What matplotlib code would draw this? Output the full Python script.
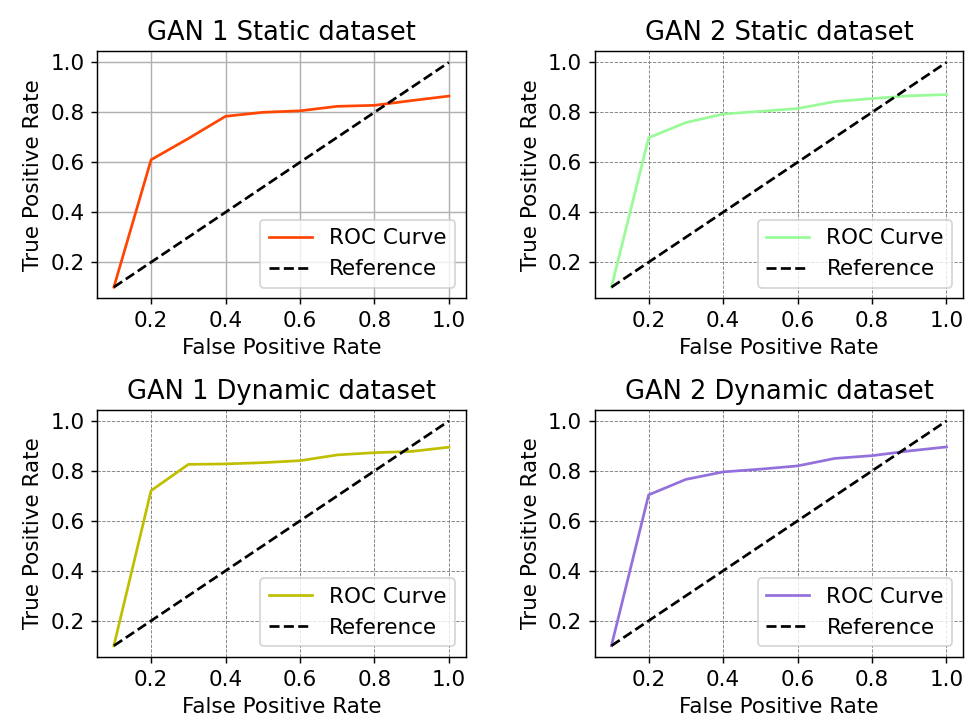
import numpy as np
import matplotlib
matplotlib.use('Agg')
import matplotlib.pyplot as plt


# false positive rate thresholds shared by all four curves
fpr = [0.1, 0.2, 0.3, 0.4, 0.5, 0.6, 0.7, 0.8, 0.9, 1.0]

# true positive rate
tpr_gan1_static = [0.1, 0.61, 0.695, 0.784, 0.80, 0.806, 0.824, 0.828, 0.847, 0.865]
tpr_gan2_static = [0.1, 0.698, 0.759, 0.793, 0.804, 0.815, 0.843, 0.855, 0.866, 0.871]
tpr_gan1_dynamic = [0.1, 0.721, 0.826, 0.828, 0.833, 0.841, 0.864, 0.873, 0.878, 0.895]
tpr_gan2_dynamic = [0.1, 0.704, 0.766, 0.796, 0.807, 0.82, 0.85, 0.861, 0.88, 0.896]

titles = ['GAN 1 Static dataset', 'GAN 2 Static dataset',
          'GAN 1 Dynamic dataset', 'GAN 2 Dynamic dataset']
colors = ['orangered', 'palegreen', 'y', 'mediumpurple']
series = [tpr_gan1_static, tpr_gan2_static, tpr_gan1_dynamic, tpr_gan2_dynamic]

plt.rcParams['font.size'] = 11.9

dpi = 130
fig, axes = plt.subplots(2, 2, figsize=(971/dpi, 720/dpi), dpi=dpi)
fig.subplots_adjust(left=0.1, right=0.992, top=0.929, bottom=0.0875,
                    wspace=0.35, hspace=0.45)

for i, ax in enumerate(axes.flat):
	ax.plot(fpr, series[i], color=colors[i], label='ROC Curve')
	ax.plot([fpr[0], fpr[-1]], [fpr[0], fpr[-1]], 'k--', label='Reference')
	ax.set_title(titles[i])
	ax.set_xlabel('False Positive Rate')
	ax.set_ylabel('True Positive Rate')
	ax.legend(loc='lower right')
	if i == 0:
		ax.grid(True)
	else:
		ax.grid(True, linestyle='--', linewidth=0.5, color='gray')

plt.savefig('out.png', dpi=dpi)
